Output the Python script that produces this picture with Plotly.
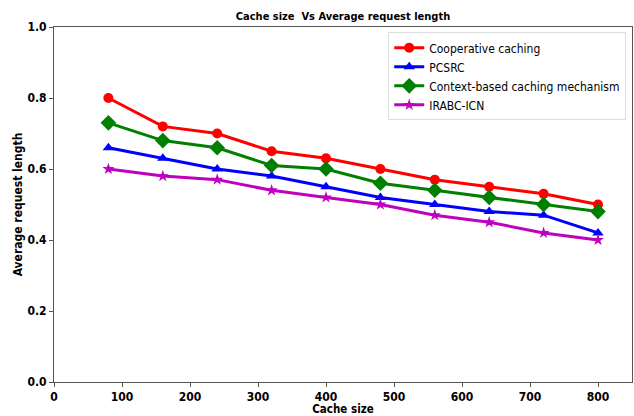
import plotly.graph_objects as go

cache_size = [80, 160, 240, 320, 400, 480, 560, 640, 720, 800]
cooperative = [0.80, 0.72, 0.70, 0.65, 0.63, 0.60, 0.57, 0.55, 0.53, 0.50]
pcsrc = [0.66, 0.63, 0.60, 0.58, 0.55, 0.52, 0.50, 0.48, 0.47, 0.42]
context_based = [0.73, 0.68, 0.66, 0.61, 0.60, 0.56, 0.54, 0.52, 0.50, 0.48]
irabc = [0.60, 0.58, 0.57, 0.54, 0.52, 0.50, 0.47, 0.45, 0.42, 0.40]

x_ticks = [0, 100, 200, 300, 400, 500, 600, 700, 800]
y_ticks = [0.0, 0.2, 0.4, 0.6, 0.8, 1.0]

series = [
    ("Cooperative caching", cooperative, "red", "circle", 10),
    ("PCSRC", pcsrc, "blue", "triangle-up", 10),
    ("Context-based caching mechanism", context_based, "green", "diamond", 12),
    ("IRABC-ICN", irabc, "#BF00BF", "star", 9),
]

fig = go.Figure()
for name, vals, col, sym, sz in series:
    fig.add_trace(go.Scatter(
        x=cache_size, y=vals, name=name, mode="lines+markers",
        line=dict(color=col, width=3),
        marker=dict(color=col, symbol=sym, size=sz),
    ))

font = "DejaVu Sans Condensed, Liberation Sans Narrow, DejaVu Sans"
fig.update_layout(
    width=634, height=416,
    margin=dict(l=54, r=2, t=27, b=34, autoexpand=False),
    paper_bgcolor="white", plot_bgcolor="white",
    font=dict(family=font, color="black"),
    title=dict(text="<b>Cache size  Vs Average request length</b>",
               xref="paper", x=0.5, xanchor="center",
               yref="container", y=1 - 16 / 416, yanchor="middle",
               font=dict(size=11)),
    showlegend=True,
    legend=dict(x=0.99, y=0.985, xanchor="right", yanchor="top",
                bgcolor="white", bordercolor="#DDDDDD", borderwidth=1,
                font=dict(size=12), tracegroupgap=0, itemwidth=30),
)
fig.update_xaxes(
    range=[0, 850], tickvals=x_ticks, ticktext=[f"<b>{v}</b>" for v in x_ticks],
    showgrid=False, zeroline=False, showline=True, linecolor="#555555", mirror=True,
    ticks="outside", ticklen=4, tickcolor="#555555", tickfont=dict(size=12),
    automargin=True,
    title=dict(text="<b>Cache size</b>", font=dict(size=11.5), standoff=4),
)
fig.update_yaxes(
    range=[0, 1.0], tickvals=y_ticks, ticktext=[f"<b>{v:.1f}</b>" for v in y_ticks],
    showgrid=False, zeroline=False, showline=True, linecolor="#555555", mirror=True,
    ticks="outside", ticklen=4, tickcolor="#555555", tickfont=dict(size=12),
    automargin=True,
    title=dict(text="<b>Average request length</b>", font=dict(size=12), standoff=2),
)
fig.write_html(
    "out.html",
    config={"displayModeBar": False},
    post_script="document.body.style.margin='0px';document.body.style.overflow='hidden';",
)
